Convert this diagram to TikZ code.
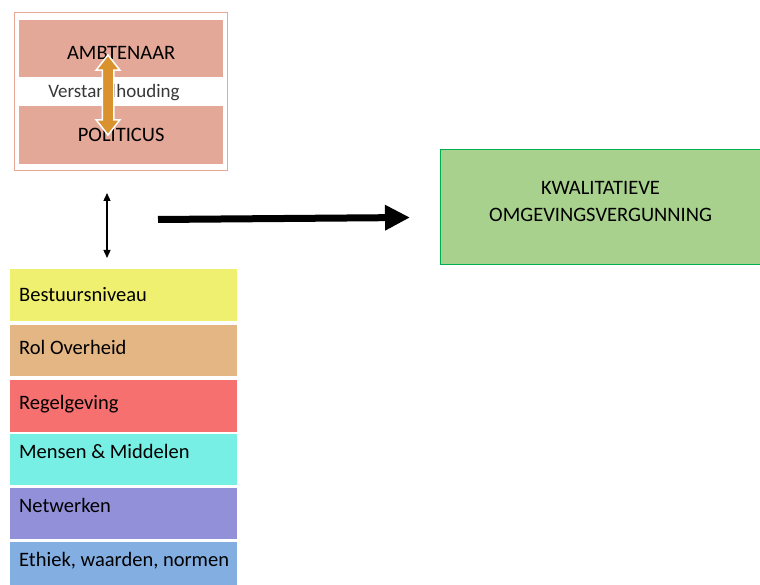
\documentclass[tikz,border=0pt]{standalone}
\usepackage{fontspec}
\setmainfont{Carlito}
\usepackage{tikz}
\usetikzlibrary{arrows.meta,positioning,shapes.arrows}
\definecolor{cFrame}{RGB}{232,168,150}
\definecolor{cRole}{RGB}{228,168,152}
\definecolor{cLink}{RGB}{217,146,46}
\definecolor{cPermit}{RGB}{169,209,142}
\definecolor{cPermitLine}{RGB}{0,176,80}
\definecolor{cLevel}{RGB}{240,240,112}
\definecolor{cRol}{RGB}{227,182,132}
\definecolor{cRegel}{RGB}{246,112,112}
\definecolor{cMensen}{RGB}{120,239,228}
\definecolor{cNetwerk}{RGB}{147,144,218}
\definecolor{cEthiek}{RGB}{131,174,226}
\definecolor{cText}{RGB}{55,55,55}

\begin{document}
\begin{tikzpicture}[x=1pt,y=-1pt,
  big/.style={font=\fontsize{20.5}{27}\selectfont},
  role/.style={big,fill=cRole,minimum width=204pt,minimum height=57pt,inner sep=0pt,anchor=north west},
  layer/.style={big,minimum width=227pt,minimum height=51.5pt,inner xsep=9pt,inner ysep=0pt,
    text width=209pt,align=flush left},
  node distance=3.5pt]
  \useasboundingbox (0,0) rectangle (760,585);
  % ambtenaar en politicus
  \node[draw=cFrame,line width=1pt,minimum width=213pt,minimum height=158pt,inner sep=0pt,anchor=north west] (frame) at (14,12) {};
  \node[role,text height=22pt] (ambt) at (19,20) {AMBTENAAR};
  \node[role,minimum height=58pt] (pol) at (19,106) {POLITICUS};
  \node[font=\fontsize{19}{23}\selectfont,text=cText] (verst) at (114,93) {Verstandhouding};
  \node[double arrow,fill=cLink,draw=white,line width=1.5pt,rotate=90,minimum height=80pt,minimum width=22pt,
    inner sep=5pt,double arrow head extend=6pt,double arrow tip angle=76] (link) at (108,95) {};
  % lagen
  \node[layer,fill=cLevel,anchor=north west,text depth=1pt] (level) at (10,269) {Bestuursniveau};
  \node[layer,fill=cRol,below=of level,text depth=5pt] (rol) {Rol Overheid};
  \node[layer,fill=cRegel,below=of rol,text depth=7pt] (regel) {Regelgeving};
  \node[layer,fill=cMensen,below=2pt of regel,text depth=16pt] (mensen) {Mensen \& Middelen};
  \node[layer,fill=cNetwerk,below=2pt of mensen,text depth=17pt] (netwerk) {Netwerken};
  \node[layer,fill=cEthiek,below=2.5pt of netwerk,text depth=18pt] (ethiek) {\mbox{Ethiek, waarden, normen}};
  % vergunning
  \node[big,fill=cPermit,draw=cPermitLine,line width=1.2pt,minimum width=320pt,minimum height=115pt,
    anchor=north west,align=center,text depth=12pt] (permit) at (440,149) {KWALITATIEVE\\OMGEVINGSVERGUNNING};
  \coordinate (upTop) at (107,193);
  \coordinate (upBot) at (107,258);
  \draw[line width=1.3pt,{Triangle[length=8pt,width=7pt]}-{Triangle[length=8pt,width=7pt]}] (upTop) -- (upBot);
  \coordinate (flowStart) at (158,219.5);
  \coordinate (flowEnd) at (410,217.5);
  \draw[line width=7pt,-{Triangle[length=25pt,width=24pt]}] (flowStart) -- (flowEnd);
\end{tikzpicture}
\end{document}
